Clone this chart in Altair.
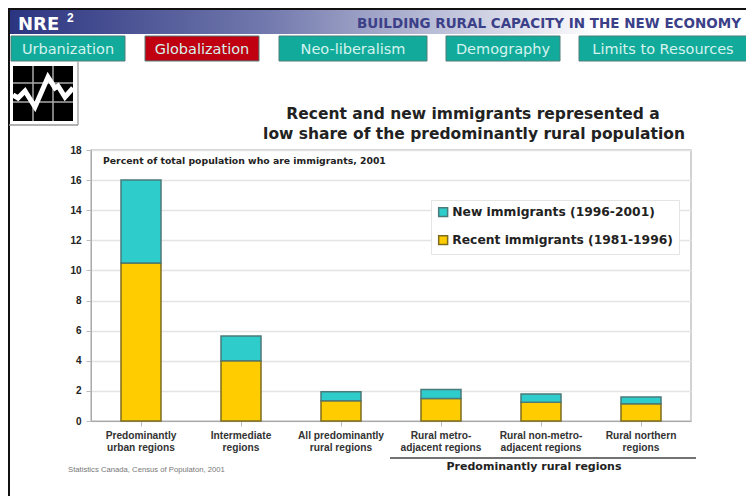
import altair as alt
import pandas as pd

categories = ["Predominantly|urban regions", "Intermediate|regions", "All predominantly|rural regions",
              "Rural metro-|adjacent regions", "Rural non-metro-|adjacent regions", "Rural northern|regions"]
recent = [10.5, 4.0, 1.35, 1.5, 1.25, 1.15]
new = [5.5, 1.65, 0.6, 0.6, 0.55, 0.45]
series = ["New immigrants (1996-2001)", "Recent immigrants (1981-1996)"]
fills = ["#2fcccc", "#ffcc00"]
strokes = ["#4a7a7a", "#7d6c1e"]

tabs = [("Urbanization", 11, 125, "#12ab9b"), ("Globalization", 145, 259, "#c00010"),
        ("Neo-liberalism", 279, 427, "#12ab9b"), ("Demography", 446, 560, "#12ab9b"),
        ("Limits to Resources", 579, 747, "#12ab9b")]
zigzag_x = [13, 18, 25, 35, 48, 55, 58, 65, 73]
zigzag_y = [95, 98, 91, 107, 77, 88, 86, 97, 88]

L, T, W, H = 91, 150, 600, 271
FONT = "Liberation Sans"
WIDE = "DejaVu Sans"

rows = []
for c, r, n in zip(categories, recent, new):
    rows.append({"cat": c, "s": series[1], "v": r, "o": 0})
    rows.append({"cat": c, "s": series[0], "v": n, "o": 1})
df = pd.DataFrame(rows)


def px(v):
    return alt.value(v - L)


def py(v):
    return alt.value(v - T)


def box(x0, x1, y0, y1, **kw):
    return alt.Chart().mark_rect(**kw).encode(x=px(x0), x2=px(x1), y=py(y0), y2=py(y1))


def line(x0, x1, y0, y1, color, w):
    return alt.Chart().mark_rule(color=color, strokeWidth=w).encode(x=px(x0), x2=px(x1), y=py(y0), y2=py(y1))


def label(t, x, y, size, color="#222222", weight="bold", align="left", font=FONT):
    return alt.Chart().mark_text(text=t, fontSize=size, color=color, fontWeight=weight, align=align,
                                 baseline="alphabetic", font=font).encode(x=px(x), y=py(y))


bars = alt.Chart(df).mark_bar(size=40, strokeWidth=1.5).encode(
    x=alt.X("cat:N", sort=categories, title=None,
            scale=alt.Scale(paddingInner=0, paddingOuter=0),
            axis=alt.Axis(labelExpr="split(datum.label, '|')", labelAngle=0, labelFont=FONT, labelFontWeight="bold",
                          labelFontSize=10.2, labelColor="#333333", labelLineHeight=12, labelPadding=4, ticks=True,
                          tickColor="#bbbbbb", domainColor="#aaaaaa", labelLimit=130, grid=False)),
    y=alt.Y("v:Q", stack="zero", title=None,
            scale=alt.Scale(domain=[0, 18], nice=False),
            axis=alt.Axis(values=list(range(0, 19, 2)), labelFont=FONT, labelFontWeight="bold", labelFontSize=10,
                          labelColor="#222222", tickColor="#bbbbbb", domainColor="#aaaaaa", gridColor="#e4e4e4",
                          gridWidth=1.5, labelPadding=5)),
    color=alt.Color("s:N", scale=alt.Scale(domain=series, range=fills), title=None,
                    legend=alt.Legend(orient="none", legendX=431 - L, legendY=200 - T, fillColor="#ffffff",
                                      strokeColor="#e4e4e4", padding=6, labelFont=WIDE, labelFontWeight="bold",
                                      labelFontSize=12.3, labelColor="#222222", symbolType="square", symbolSize=80,
                                      rowPadding=12, labelLimit=240, labelOffset=3)),
    stroke=alt.Stroke("s:N", scale=alt.Scale(domain=series, range=strokes), title=None),
    order=alt.Order("o:Q"),
)

parts = [
    box(9, 746, 9, 34, color=alt.LinearGradient(gradient="linear", x1=0, x2=1, y1=0, y2=0, stops=[
        alt.GradientStop(offset=0, color="#2b3480"), alt.GradientStop(offset=0.35, color="#7279ad"),
        alt.GradientStop(offset=0.8, color="#ffffff"), alt.GradientStop(offset=1, color="#ffffff")])),
    line(8, 746, 9, 9, "#111111", 2), line(9, 9, 8, 496, "#111111", 2),
    label("NRE", 18, 30, 18, "#ffffff", font=WIDE), label("2", 67, 22, 12, "#ffffff"),
    label("BUILDING RURAL CAPACITY IN THE NEW ECONOMY", 741, 28, 13.5, "#3b4088", align="right", font=WIDE),
]
for name, x0, x1, col in tabs:
    parts.append(box(x0, x1, 36, 61, color=col, stroke="#4f7d78", strokeWidth=1))
    parts.append(label(name, (x0 + x1) / 2, 53.5, 14.5, "#d5f3ee", "normal", "center", "DejaVu Sans"))

parts += [
    line(78, 78, 61, 125, "#aaaaaa", 1.5), line(9, 78, 125, 125, "#999999", 1.5),
    box(13, 73, 66, 121, color="#000000"),
    line(33, 33, 66, 121, "#aaaaaa", 1.5), line(53, 53, 66, 121, "#aaaaaa", 1.5),
    line(13, 73, 83, 83, "#aaaaaa", 1.5), line(13, 73, 102, 102, "#aaaaaa", 1.5),
]
zz = pd.DataFrame({"px": [v - L for v in zigzag_x], "py": [v - T for v in zigzag_y], "i": range(len(zigzag_x))})
icon_line = alt.Chart(zz).mark_line(color="#ffffff", strokeWidth=5, clip=False).encode(
    x=alt.X("px:Q", scale=None, axis=None), y=alt.Y("py:Q", scale=None, axis=None), order="i:Q")
parts.append(icon_line)

parts += [
    label("Recent and new immigrants represented a", 473, 118.5, 15.5, align="center", font=WIDE),
    label("low share of the predominantly rural population", 474, 138.5, 15.5, align="center", font=WIDE),
    label("Percent of total population who are immigrants, 2001", 103, 163.5, 9.3, font=WIDE),
    line(390, 696, 458, 458, "#444444", 1.5),
    label("Predominantly rural regions", 534, 470, 11, align="center", font=WIDE),
    label("Statistics Canada, Census of Populaton, 2001", 68, 471.5, 7.7, "#777777", "normal"),
]

chart = alt.layer(bars, *parts).resolve_scale(x="independent", y="independent").properties(
    width=W, height=H,
    autosize=alt.AutoSizeParams(type="none"),
    padding={"left": L - 8, "top": T - 8, "right": 754 - 16 - (L - 8) - W, "bottom": 504 - 16 - (T - 8) - H},
    background="#ffffff",
).configure_view(stroke="#c4c4c4", strokeWidth=1.5)

chart.save("out.html", embed_options={"renderer": "svg", "actions": False})
